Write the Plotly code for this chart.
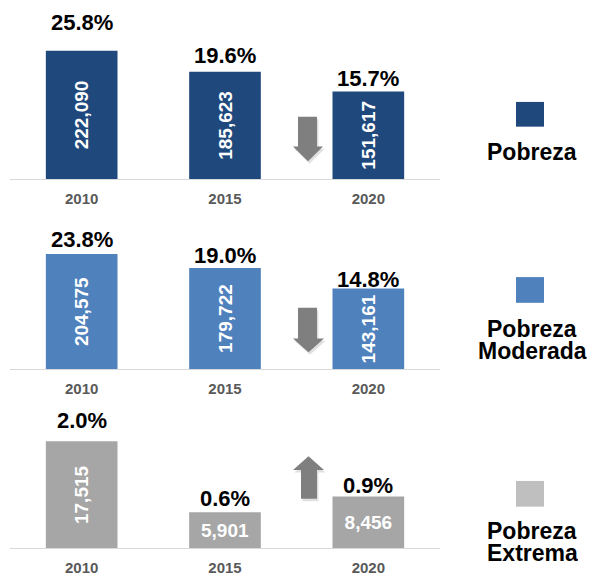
import plotly.graph_objects as go

# ---------------- data ----------------
years = ["2010", "2015", "2020"]
pobreza = [222090, 185623, 151617]
pobreza_pct = ["25.8%", "19.6%", "15.7%"]
moderada = [204575, 179722, 143161]
moderada_pct = ["23.8%", "19.0%", "14.8%"]
extrema = [17515, 5901, 8456]
extrema_pct = ["2.0%", "0.6%", "0.9%"]
legend_pobreza = ["Pobreza"]
legend_moderada = ["Pobreza", "Moderada"]
legend_extrema = ["Pobreza", "Extrema"]

# ---------------- styling / layout ----------------
W, H = 590, 576
FONT = "Liberation Sans, Arial, sans-serif"


def px(x):
    return x / W


def py(y):
    return 1 - y / H


panels = [
    dict(values=pobreza, pct=pobreza_pct, color="#1F497D", legend=legend_pobreza,
         bottom=181, top=10, ymax=292750, pct_shift=[28, 16, 13],
         sq=(516, 103, 544, 128), text_y=[154], rot=[True, True, True]),
    dict(values=moderada, pct=moderada_pct, color="#4F81BD", legend=legend_moderada,
         bottom=373, top=213, ymax=281300, pct_shift=[14, 12, 9],
         sq=(516, 280, 544, 306), text_y=[332, 355], rot=[True, True, True]),
    dict(values=extrema, pct=extrema_pct, color="#A6A6A6", legend=legend_extrema,
         bottom=554, top=404, ymax=24300, pct_shift=[21, 14, 11],
         sq=(516, 486, 544, 512), text_y=[537, 559], rot=[True, False, False],
         sqcolor="#BFBFBF"),
]

fig = go.Figure()
annotations = []
shapes = []
layout = dict(
    width=W, height=H, margin=dict(l=0, r=0, t=0, b=0),
    paper_bgcolor="white", plot_bgcolor="white",
    showlegend=False, barmode="overlay", bargap=0.5,
    font=dict(family=FONT),
)

for i, p in enumerate(panels):
    n = "" if i == 0 else str(i + 1)
    xa, ya = "x" + n, "y" + n
    # split bars by text orientation (textangle is per trace)
    for rot in (True, False):
        idx = [k for k in range(len(years)) if p["rot"][k] == rot]
        if not idx:
            continue
        fig.add_trace(go.Bar(
            x=[years[k] for k in idx], y=[p["values"][k] for k in idx],
            marker=dict(color=p["color"], line=dict(width=0)),
            texttemplate="%{y:,}", textposition="inside",
            insidetextanchor="middle", constraintext="none",
            textangle=-90 if rot else 0,
            insidetextfont=dict(family=FONT, size=19, color="white", weight="bold"),
            xaxis=xa, yaxis=ya, hoverinfo="skip",
        ))
    layout["xaxis" + n] = dict(
        domain=[px(10), px(440)], anchor=ya, type="category",
        categoryorder="array", categoryarray=years, range=[-0.5, 2.5],
        showline=True, linecolor="#D9D9D9", linewidth=1, ticks="",
        showgrid=False, zeroline=False, ticklabelstandoff=6,
        tickfont=dict(family=FONT, size=15, color="#595959", weight="bold"),
    )
    layout["yaxis" + n] = dict(
        domain=[py(p["bottom"]), py(p["top"])], anchor=xa,
        range=[0, p["ymax"]], visible=False, showgrid=False, zeroline=False,
    )
    for k, y in enumerate(years):
        # category axes take the category index for annotation positions
        annotations.append(dict(
            x=k, y=p["values"][k], xref=xa, yref=ya, text=p["pct"][k],
            showarrow=False, yanchor="middle", yshift=p["pct_shift"][k],
            font=dict(family=FONT, size=22, color="black", weight="bold"),
        ))
    x0, y0, x1, y1 = p["sq"]
    shapes.append(dict(type="rect", xref="paper", yref="paper",
                       x0=px(x0), x1=px(x1), y0=py(y1), y1=py(y0),
                       fillcolor=p.get("sqcolor", p["color"]), line=dict(width=0)))
    for line, ty in zip(p["legend"], p["text_y"]):
        annotations.append(dict(
            x=px(532), y=py(ty), xref="paper", yref="paper", text=line,
            showarrow=False, xanchor="center", yanchor="middle", height=22,
            font=dict(family=FONT, size=23, color="black", weight="bold"),
        ))


def arrow_path(pts, dx=0, dy=0):
    s = "M " + " L ".join(f"{px(x + dx)},{py(y + dy)}" for x, y in pts) + " Z"
    return s


down1 = [(298, 118), (317, 118), (317, 148), (323, 148), (308, 163), (293, 148), (298, 148)]
down2 = [(298, 311), (317, 311), (317, 342), (324, 342), (308.5, 356), (293, 342), (298, 342)]
up3 = [(308.5, 461), (324, 475), (317, 475), (317, 504), (301, 504), (301, 475), (293, 475)]
for pts in (down1, down2, up3):
    shapes.append(dict(type="path", xref="paper", yref="paper",
                       path=arrow_path(pts, 1.5, 2.5),
                       fillcolor="rgba(0,0,0,0.12)", line=dict(width=0)))
    shapes.append(dict(type="path", xref="paper", yref="paper",
                       path=arrow_path(pts), fillcolor="#7F7F7F", line=dict(width=0)))

layout["annotations"] = annotations
layout["shapes"] = shapes
fig.update_layout(**layout)
fig.write_html(
    "out.html",
    config={"displayModeBar": False},
    post_script="document.body.style.margin='0';document.body.style.padding='0';",
)
